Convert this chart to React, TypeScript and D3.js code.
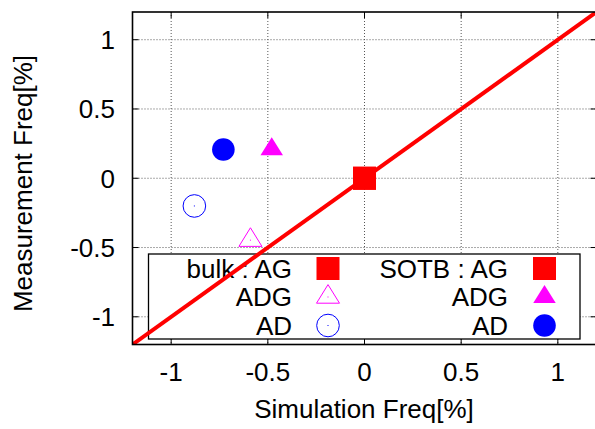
import React from "react";
import * as d3 from "d3";

const xTicks = [-1, -0.5, 0, 0.5, 1];
const yTicks = [-1, -0.5, 0, 0.5, 1];
const xDomain = [-1.2, 1.2];
const yDomain = [-1.2, 1.2];

const seriesLabels = ["bulk : AG", "ADG", "AD", "SOTB : AG", "ADG", "AD"];
const seriesX = [0, -0.59, -0.88, 0, -0.48, -0.73];
const seriesY = [0, -0.447, -0.2, 0, 0.21, 0.207];
const seriesShape = ["square", "triangleOpen", "circleOpen", "square", "triangle", "circle"];
const seriesColor = ["#ff0000", "#ff00ff", "#0000ff", "#ff0000", "#ff00ff", "#0000ff"];

const W = 595;
const H = 429;
const left = 132.5;
const right = 596.5;
const top = 12;
const bottom = 344.5;

const FS = 26;
const SX = 1.0;
const FONT = "'Liberation Sans', Arial, Helvetica, sans-serif";

function Marker({ shape, color, x, y }: { shape: string; color: string; x: number; y: number }) {
  if (shape === "square") {
    return <rect x={x - 11.5} y={y - 11.5} width={23} height={23} fill={color} />;
  }
  if (shape === "triangle" || shape === "triangleOpen") {
    const w = shape === "triangle" ? 22.5 : 23;
    const h = shape === "triangle" ? 18 : 18.6;
    const p = `M${x},${y - (2 * h) / 3} L${x + w / 2},${y + h / 3} L${x - w / 2},${y + h / 3} Z`;
    if (shape === "triangle") return <path d={p} fill={color} />;
    return (
      <g>
        <path d={p} fill="none" stroke={color} strokeWidth={1} />
        <rect x={x - 0.5} y={y - 0.5} width={1} height={1} fill={color} />
      </g>
    );
  }
  if (shape === "circle") {
    return <circle cx={x} cy={y} r={11.3} fill={color} />;
  }
  return (
    <g>
      <circle cx={x} cy={y} r={11.3} fill="none" stroke={color} strokeWidth={1} />
      <rect x={x - 0.5} y={y - 0.5} width={1} height={1} fill={color} />
    </g>
  );
}

function T({ x, y, anchor, children, rotate }: any) {
  const tr = `translate(${x},${y})${rotate ? ` rotate(${rotate})` : ""} scale(${SX},1)`;
  return (
    <text transform={tr} textAnchor={anchor} fontFamily={FONT} fontSize={FS} fill="#000">
      {children}
    </text>
  );
}

export default function App() {
  const xs = d3.scaleLinear().domain(xDomain).range([left, right]);
  const ys = d3.scaleLinear().domain(yDomain).range([bottom, top]);

  const fmt = (v: number) => String(v);

  const lg = { x0: 148.5, y0: 254, x1: 580, y1: 339 };
  const rowY = [268.5, 297, 325.5];
  const col = [
    { textX: 292, markX: 328 },
    { textX: 508, markX: 544.5 },
  ];

  const line = d3.line<number>()
    .x((d) => xs(d))
    .y((d) => ys(d));

  return (
    <svg width={W} height={H} style={{ position: "absolute", left: 0, top: 0 }}>
      <rect x={0} y={0} width={W} height={H} fill="#fff" />
      <defs>
        <clipPath id="plotclip">
          <rect x={left} y={top} width={right - left} height={bottom - top} />
        </clipPath>
      </defs>
      <g stroke="#555" strokeWidth={1} strokeDasharray="1,2">
        {xTicks.map((t) => (
          <line key={"gx" + t} x1={xs(t)} x2={xs(t)} y1={top} y2={bottom} />
        ))}
        {yTicks.map((t) => (
          <line key={"gy" + t} x1={left} x2={right} y1={ys(t)} y2={ys(t)} />
        ))}
      </g>
      <g stroke="#000" strokeWidth={1}>
        {xTicks.map((t) => (
          <g key={"tx" + t}>
            <line x1={xs(t)} x2={xs(t)} y1={bottom} y2={bottom - 6} />
            <line x1={xs(t)} x2={xs(t)} y1={top} y2={top + 6} />
          </g>
        ))}
        {yTicks.map((t) => (
          <g key={"ty" + t}>
            <line x1={left} x2={left + 6} y1={ys(t)} y2={ys(t)} />
            <line x1={right} x2={right - 6} y1={ys(t)} y2={ys(t)} />
          </g>
        ))}
      </g>
      <rect x={lg.x0} y={lg.y0} width={lg.x1 - lg.x0} height={lg.y1 - lg.y0} fill="#fff" stroke="#000" strokeWidth={1.3} />
      {seriesLabels.map((lab, i) => {
        const c = col[Math.floor(i / 3)];
        const ry = rowY[i % 3];
        return (
          <g key={"lg" + i}>
            <T x={c.textX} y={ry + 9} anchor="end">{lab}</T>
            <Marker shape={seriesShape[i]} color={seriesColor[i]} x={c.markX} y={ry} />
          </g>
        );
      })}
      <path d={line(xDomain) || ""} stroke="#ff0000" strokeWidth={4} fill="none" clipPath="url(#plotclip)" />
      {seriesLabels.map((_, i) => (
        <Marker key={"pt" + i} shape={seriesShape[i]} color={seriesColor[i]} x={xs(seriesX[i])} y={ys(seriesY[i])} />
      ))}
      <rect x={left} y={top} width={right - left} height={bottom - top} fill="none" stroke="#000" strokeWidth={1.6} />
      {xTicks.map((t) => (
        <T key={"lx" + t} x={xs(t)} y={381} anchor="middle">{fmt(t)}</T>
      ))}
      {yTicks.map((t) => (
        <T key={"ly" + t} x={115} y={ys(t) + 9.5} anchor="end">{fmt(t)}</T>
      ))}
      <T x={364} y={418} anchor="middle">Simulation Freq[%]</T>
      <T x={32} y={183.5} anchor="middle" rotate={-90}>Measurement Freq[%]</T>
    </svg>
  );
}
